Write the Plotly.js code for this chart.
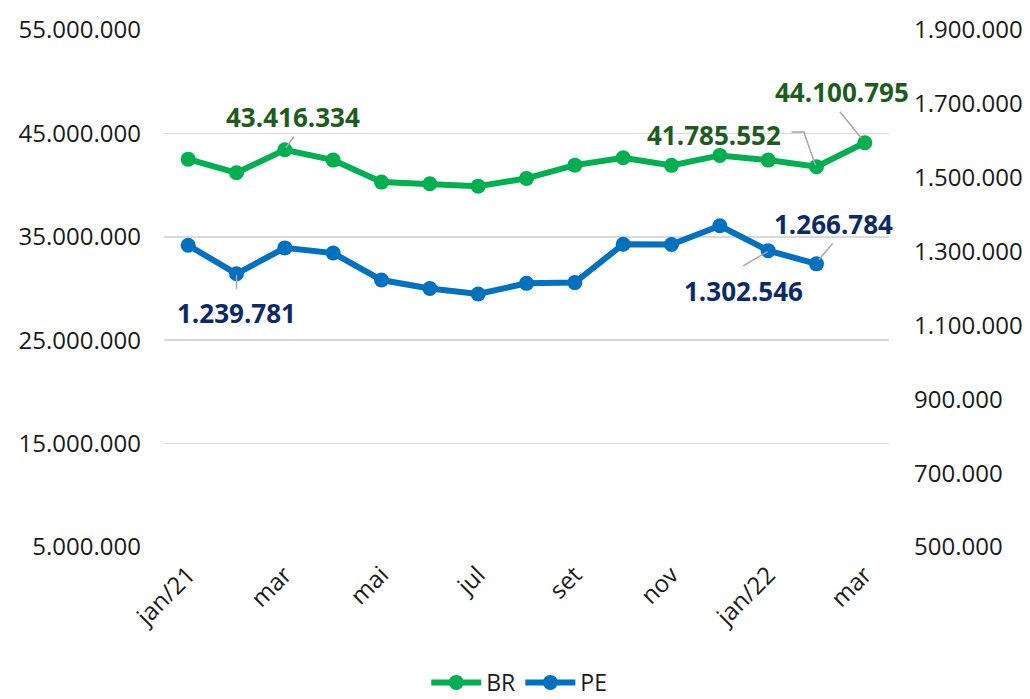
<!DOCTYPE html>
<html>
<head>
<meta charset="utf-8">
<script src="https://cdn.plot.ly/plotly-3.0.1.min.js"></script>
<style>html,body{margin:0;padding:0;background:#fff;}#chart{width:1030px;height:699px;}</style>
</head>
<body>
<div id="chart"></div>
<script>
// ---- data ----
const months = ['jan/21','fev','mar','abr','mai','jun','jul','ago','set','out','nov','dez','jan/22','fev/22','mar/22'];
const tickLabels = ['jan/21','mar','mai','jul','set','nov','jan/22','mar'];
const tickMonths = ['jan/21','mar','mai','jul','set','nov','jan/22','mar/22'];
const brValues = [42510000, 41190000, 43416334, 42420000, 40290000, 40130000, 39900000, 40650000, 41930000, 42640000, 41910000, 42870000, 42420000, 41785552, 44100795];
const peValues = [1317000, 1239781, 1310000, 1296000, 1223000, 1200000, 1185000, 1214000, 1216000, 1320000, 1319000, 1370000, 1302546, 1266784, null];
const leftTicks = [5000000, 15000000, 25000000, 35000000, 45000000, 55000000];
const rightTicks = [500000, 700000, 900000, 1100000, 1300000, 1500000, 1700000, 1900000];

// labelled points: [series, month index, text dx, text dy, leader path (px, y up)]
const labels = [
  {s:'BR', i:2,  dx:8.5,  dy:32.5,  path:'M9,13 L1,2'},
  {s:'PE', i:1,  dx:0,    dy:-39,   path:'M0,-1 L0,-15'},
  {s:'BR', i:13, dx:-103, dy:31.8,  path:'M-25,34.6 L-12.7,34.6 L-1,1.3'},
  {s:'BR', i:14, dx:-23.3,dy:50.2,  path:'M-25,31 L-3.3,4.4'},
  {s:'PE', i:13, dx:16.5, dy:39.8,  path:'M16.3,20.7 L2.3,4'},
  {s:'PE', i:12, dx:-24.8,dy:-40.1, path:'M-25,-15.3 L-0.6,-1'}
];

function fmt(v){
  return String(Math.round(v)).replace(/\B(?=(\d{3})+(?!\d))/g, '.');
}
function fmtArr(a){ return a.map(fmt); }

const FONT = 'Open Sans, Noto Sans, sans-serif';
const GREEN = '#00b050', BLUE = '#0070c0';
const GREEN_TXT = '#1e5c1e', BLUE_TXT = '#0c2b66';

const traces = [
  {x: months, y: brValues, name: 'BR', type: 'scatter', mode: 'lines+markers', yaxis: 'y',
   line: {color: GREEN, width: 6}, marker: {color: GREEN, size: 15}, cliponaxis: false},
  {x: months, y: peValues, name: 'PE', type: 'scatter', mode: 'lines+markers', yaxis: 'y2',
   line: {color: BLUE, width: 6}, marker: {color: BLUE, size: 15}, cliponaxis: false}
];

const annotations = [];
const shapes = [];
labels.forEach(L => {
  const isBR = L.s === 'BR';
  const val = isBR ? brValues[L.i] : peValues[L.i];
  annotations.push({
    x: months[L.i], y: val, xref: 'x', yref: isBR ? 'y' : 'y2',
    text: '<b>' + fmt(val) + '</b>', showarrow: false,
    xanchor: 'center', yanchor: 'middle', xshift: L.dx, yshift: L.dy,
    font: {family: FONT, size: 26, color: isBR ? GREEN_TXT : BLUE_TXT}
  });
  shapes.push({
    type: 'path', xref: 'x', yref: isBR ? 'y' : 'y2',
    xsizemode: 'pixel', ysizemode: 'pixel',
    xanchor: L.i, yanchor: val, path: L.path,
    line: {color: '#a6a6a6', width: 1.5}, layer: 'above'
  });
});

const layout = {
  width: 1030, height: 699,
  margin: {l: 164, r: 141, t: 30, b: 152, autoexpand: false},
  paper_bgcolor: '#fff', plot_bgcolor: '#fff',
  separators: ',.',
  font: {family: FONT, size: 24, color: '#1a1a1a'},
  showlegend: true,
  legend: {orientation: 'h', x: 0.49, xanchor: 'center', y: -0.262, yanchor: 'middle',
           font: {family: FONT, size: 23, color: '#1a1a1a'}, itemwidth: 50, traceorder: 'normal'},
  xaxis: {
    type: 'category', categoryorder: 'array', categoryarray: months,
    range: [-0.5, months.length - 0.5], automargin: false,
    tickmode: 'array', tickvals: tickMonths, ticktext: tickLabels,
    tickangle: -45, showgrid: false, zeroline: false, showline: false, ticks: '',
    ticklabelstandoff: 8,
    tickfont: {family: FONT, size: 24, color: '#1a1a1a'}
  },
  yaxis: {
    range: [5000000, 55000000], tickmode: 'array', tickvals: leftTicks, ticktext: fmtArr(leftTicks),
    automargin: false,
    showgrid: true, gridcolor: '#d9d9d9', gridwidth: 1.5, zeroline: false, showline: false, ticks: '',
    ticklabelstandoff: 22,
    tickfont: {family: FONT, size: 24, color: '#1a1a1a'}
  },
  yaxis2: {
    overlaying: 'y', side: 'right', automargin: false,
    range: [500000, 1900000], tickmode: 'array', tickvals: rightTicks, ticktext: fmtArr(rightTicks),
    showgrid: false, zeroline: false, showline: false, ticks: '',
    ticklabelstandoff: 24,
    tickfont: {family: FONT, size: 24, color: '#1a1a1a'}
  },
  annotations: annotations,
  shapes: shapes
};

Plotly.newPlot('chart', traces, layout, {displayModeBar: false, staticPlot: true});
</script>
</body>
</html>
